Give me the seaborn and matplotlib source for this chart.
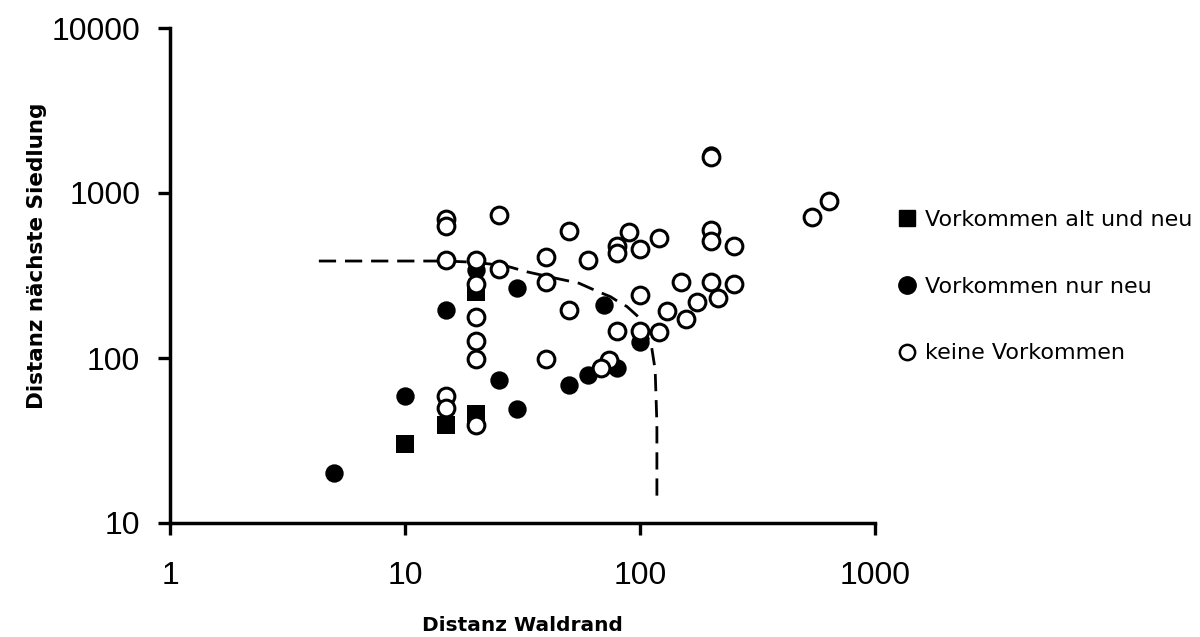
import matplotlib
matplotlib.use("Agg")
import matplotlib.pyplot as plt
import seaborn as sns
import pandas as pd
from matplotlib.lines import Line2D

# Daten (Distanz Waldrand / Distanz naechste Siedlung)
alt_neu_x = [10, 15, 20, 20]
alt_neu_y = [30, 39, 46, 250]

nur_neu_x = [5, 10, 15, 20, 25, 30, 30, 50, 60, 70, 80, 100, 200]
nur_neu_y = [20, 59, 195, 340, 74, 265, 49, 69, 79, 210, 87, 125, 1700]

keine_x = [15, 15, 25, 50, 15, 20, 20, 25, 40, 40, 20, 20, 20, 50, 40, 15, 15, 20,
           200, 640, 540, 90, 80, 80, 100, 120, 60, 200, 200, 250, 150, 200, 250,
           175, 215, 100, 130, 157, 80, 100, 120, 74, 68]
keine_y = [695, 630, 736, 590, 390, 395, 280, 345, 410, 290, 177, 127, 98, 195, 98, 59, 50, 39,
           1650, 900, 715, 580, 475, 435, 455, 530, 390, 595, 510, 480, 290, 287, 280,
           220, 230, 240, 193, 173, 145, 145, 144, 97, 87]

grenze_x = [4.3, 15, 20, 27, 33, 44, 55, 64, 75, 81, 88, 100, 112, 116, 118, 118]
grenze_y = [387, 387, 380, 361, 333, 304, 284, 258, 235, 219, 205, 174, 117, 85, 40, 14]

tick_vals_x = [1, 10, 100, 1000]
tick_vals_y = [10, 100, 1000, 10000]
legend_labels = ["Vorkommen alt und neu", "Vorkommen nur neu", "keine Vorkommen"]

sns.set_style("white")
plt.rcParams["font.family"] = ["DejaVu Sans"]
plt.rcParams["text.color"] = "black"
plt.rcParams["axes.labelcolor"] = "black"
plt.rcParams["xtick.color"] = "black"
plt.rcParams["ytick.color"] = "black"

df_alt = pd.DataFrame({"x": alt_neu_x, "y": alt_neu_y})
df_neu = pd.DataFrame({"x": nur_neu_x, "y": nur_neu_y})
df_keine = pd.DataFrame({"x": keine_x, "y": keine_y})

fig = plt.figure(figsize=(12, 6.37), dpi=100)
ax = fig.add_axes([170 / 1200, 114 / 637, 705 / 1200, 495 / 637])

sns.lineplot(x=grenze_x, y=grenze_y, sort=False, estimator=None, color="black",
             lw=2.0, ax=ax, zorder=2)
ax.lines[-1].set_linestyle((0, (6.2, 3.2)))

sns.scatterplot(data=df_neu, x="x", y="y", marker="o", s=175, color="black",
                edgecolor="black", linewidth=0, ax=ax, zorder=3)
sns.scatterplot(data=df_alt, x="x", y="y", marker="s", s=185, color="black",
                edgecolor="black", linewidth=0, ax=ax, zorder=4)
sns.scatterplot(data=df_keine, x="x", y="y", marker="o", s=145, facecolor="white",
                edgecolor="black", linewidth=2.2, ax=ax, zorder=5)

ax.set_xscale("log")
ax.set_yscale("log")
ax.set_xlim(1, 1000)
ax.set_ylim(10, 10000)
ax.set_xticks(tick_vals_x)
ax.set_xticklabels([str(v) for v in tick_vals_x])
ax.set_yticks(tick_vals_y)
ax.set_yticklabels([str(v) for v in tick_vals_y])
ax.minorticks_off()

for lab in ax.get_xticklabels() + ax.get_yticklabels():
    lab.set_fontfamily("Liberation Sans")
    lab.set_fontsize(23)

ax.tick_params(axis="x", bottom=True, length=8.5, width=2.4, pad=19, direction="out")
ax.tick_params(axis="y", left=True, length=8.5, width=2.4, pad=13, direction="out")

sns.despine(ax=ax)
for side in ["left", "bottom"]:
    ax.spines[side].set_linewidth(2.5)
    ax.spines[side].set_color("black")

ax.set_xlabel("Distanz Waldrand", fontsize=14.5, fontweight="bold")
ax.set_ylabel("Distanz nächste Siedlung", fontsize=15.5, fontweight="bold")
ax.xaxis.set_label_coords(0.5, -0.188)
ax.yaxis.set_label_coords(-0.174, 0.539)

handles = [
    Line2D([], [], marker="s", ls="none", color="black", markersize=12),
    Line2D([], [], marker="o", ls="none", color="black", markersize=12.5),
    Line2D([], [], marker="o", ls="none", markerfacecolor="white",
           markeredgecolor="black", markeredgewidth=1.8, markersize=11),
]
ax.legend(handles, legend_labels, loc="upper left",
          bbox_to_anchor=(898 / 1200, (637 - 210) / 637), bbox_transform=fig.transFigure,
          frameon=False, fontsize=16, handlelength=0.8, handletextpad=0.4,
          borderpad=0, borderaxespad=0, labelspacing=2.1)

fig.savefig("out.png", dpi=100)
